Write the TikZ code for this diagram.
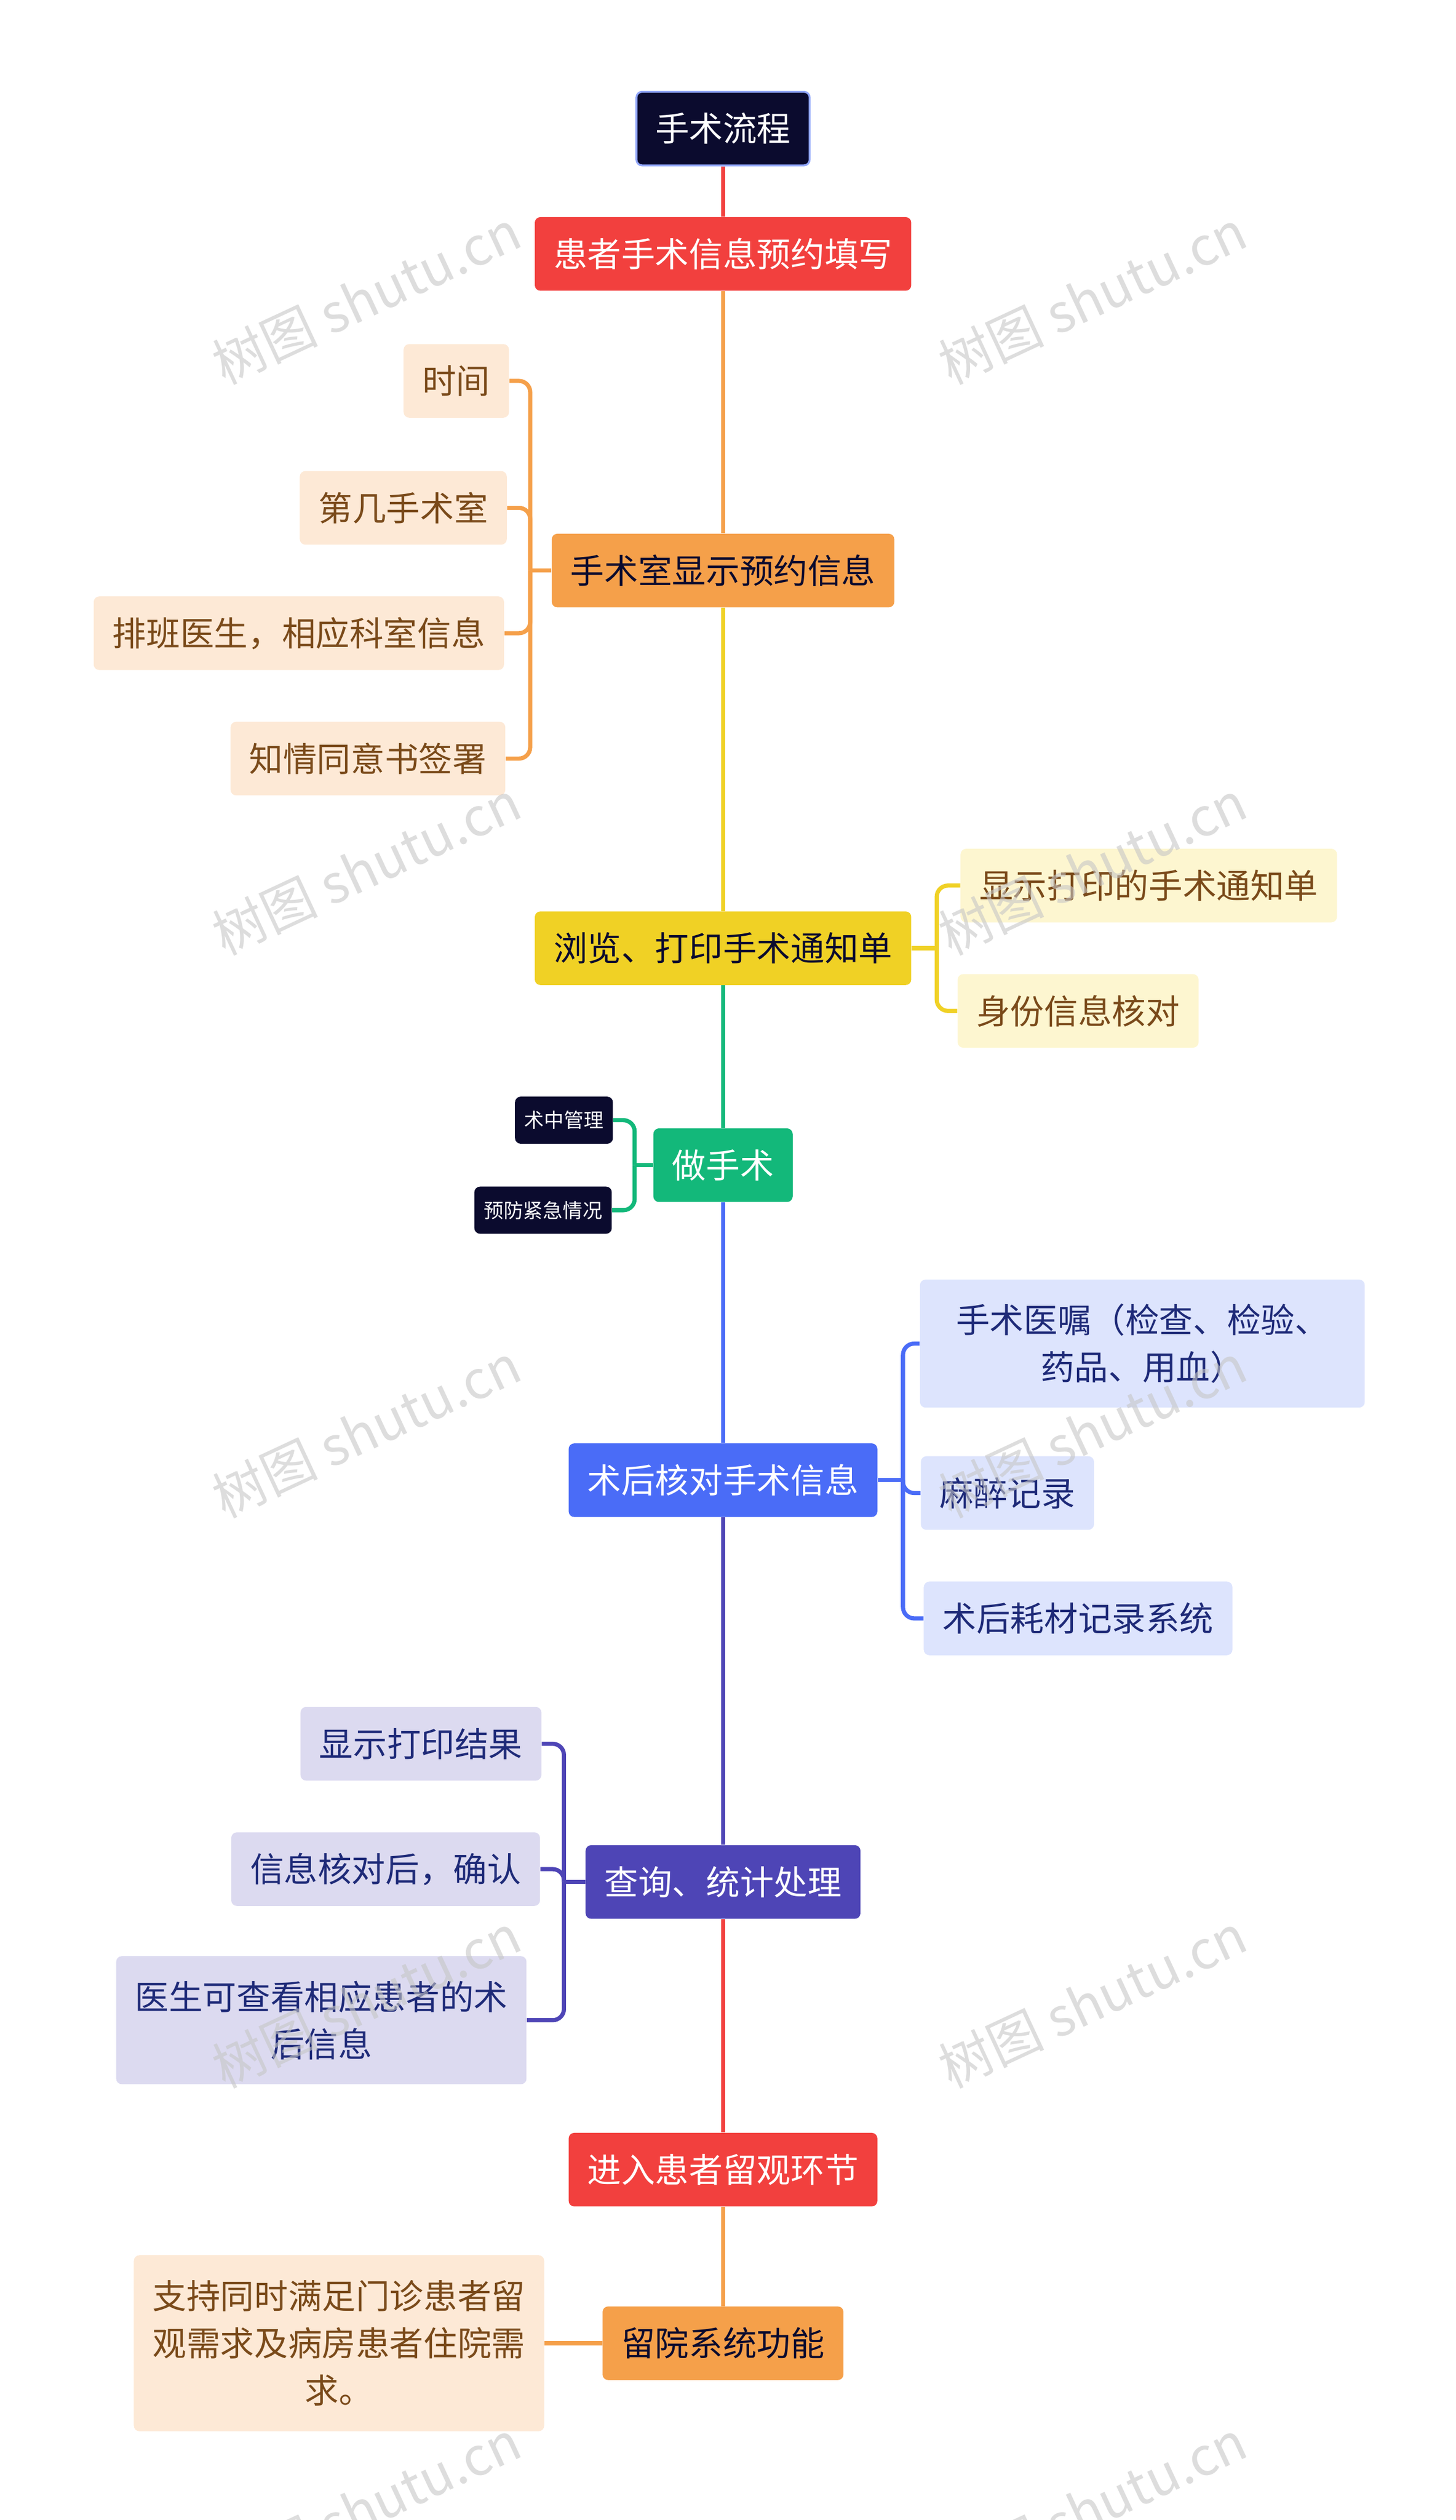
\documentclass[tikz,border=0pt]{standalone}
\usepackage{fontspec}
\setmainfont{Noto Sans CJK SC}
\usetikzlibrary{positioning}
\definecolor{navy}{HTML}{0B0B2E}
\definecolor{redm}{HTML}{F2403E}
\definecolor{orangem}{HTML}{F5A04A}
\definecolor{yellowm}{HTML}{F0D125}
\definecolor{greenm}{HTML}{13B87A}
\definecolor{bluem}{HTML}{4A6CF7}
\definecolor{purplem}{HTML}{4E45B6}
\definecolor{orangel}{HTML}{FDE9D6}
\definecolor{yellowl}{HTML}{FDF6D0}
\definecolor{bluel}{HTML}{DDE4FD}
\definecolor{purplel}{HTML}{DCDAF0}
\definecolor{brownt}{HTML}{7A4A1A}
\definecolor{navyt}{HTML}{1E2A78}
\tikzset{
  main/.style={rounded corners=3pt, minimum height=46*0.85pt, inner xsep=10pt,
    font=\fontsize{18}{22}\selectfont, text=white},
  leaf/.style={rounded corners=3pt, minimum height=46*0.85pt, inner xsep=10pt,
    font=\fontsize{18}{25}\selectfont, align=center},
  tiny/.style={rounded corners=3pt, fill=navy, text=white, minimum height=25pt,
    inner xsep=5pt, font=\fontsize{10.5}{12}\selectfont},
  link/.style={line width=2.2pt},
  brk/.style={line width=2.2pt, rounded corners=6pt},
  wm/.style={text=gray!45, opacity=0.6, rotate=25, font=\fontsize{28}{32}\selectfont}
}
\begin{document}
\begin{tikzpicture}[x=0.03cm, y=-0.03cm]
  \useasboundingbox (0,0) rectangle (906,1568);

  % spine
  \node[main, fill=navy, draw=bluem!60, line width=1pt] (root) at (450,80) {手术流程};
  \node[main, fill=redm] (appoint) at (450,158) {患者手术信息预约填写};
  \node[main, fill=orangem, text=navy] (room) at (450,355) {手术室显示预约信息};
  \node[main, fill=yellowm, text=navy] (notice) at (450,590) {浏览、打印手术通知单};
  \node[main, fill=greenm] (surgery) at (450,725) {做手术};
  \node[main, fill=bluem] (check) at (450,921) {术后核对手术信息};
  \node[main, fill=purplem] (query) at (450,1171) {查询、统计处理};
  \node[main, fill=redm] (observe) at (450,1350) {进入患者留观环节};
  \node[main, fill=orangem, text=navy] (stay) at (450,1458) {留院系统功能};

  \draw[link, redm] (root) -- (appoint);
  \draw[link, orangem] (appoint) -- (room);
  \draw[link, yellowm] (room) -- (notice);
  \draw[link, greenm] (notice) -- (surgery);
  \draw[link, bluem] (surgery) -- (check);
  \draw[link, purplem] (check) -- (query);
  \draw[link, redm] (query) -- (observe);
  \draw[link, orangem] (observe) -- (stay);

  % room children
  \node[leaf, fill=orangel, text=brownt] (time) at (284,237) {时间};
  \node[leaf, fill=orangel, text=brownt] (roomno) at (251,316) {第几手术室};
  \node[leaf, fill=orangel, text=brownt] (doctor) at (186,394) {排班医生，相应科室信息};
  \node[leaf, fill=orangel, text=brownt] (consent) at (229,472) {知情同意书签署};
  \coordinate (roomb) at (330,355);
  \draw[link, orangem] (room.west) -- (roomb);
  \foreach \c in {time, roomno, doctor, consent}
    \draw[brk, orangem] (roomb) |- (\c.east);

  % notice children
  \node[leaf, fill=yellowl, text=brownt] (print) at (715,551) {显示打印的手术通知单};
  \node[leaf, fill=yellowl, text=brownt] (ident) at (671,629) {身份信息核对};
  \coordinate (noticeb) at (583,590);
  \draw[link, yellowm] (notice.east) -- (noticeb);
  \foreach \c in {print, ident}
    \draw[brk, yellowm] (noticeb) |- (\c.west);

  % surgery children
  \node[tiny] (manage) at (351,697) {术中管理};
  \node[tiny] (emerg) at (338,753) {预防紧急情况};
  \coordinate (surgeryb) at (395,725);
  \draw[link, greenm] (surgery.west) -- (surgeryb);
  \foreach \c in {manage, emerg}
    \draw[brk, greenm] (surgeryb) |- (\c.east);

  % check children
  \node[leaf, fill=bluel, text=navyt, minimum height=80*0.85pt, minimum width=278*0.85pt] (order) at (711,836) {手术医嘱（检查、检验、\\药品、用血）};
  \node[leaf, fill=bluel, text=navyt] (anesth) at (627,929) {麻醉记录};
  \node[leaf, fill=bluel, text=navyt] (consum) at (671,1007) {术后耗材记录系统};
  \coordinate (checkb) at (562,921);
  \draw[link, bluem] (check.east) -- (checkb);
  \foreach \c in {order, anesth, consum}
    \draw[brk, bluem] (checkb) |- (\c.west);

  % query children
  \node[leaf, fill=purplel, text=navyt] (result) at (262,1085) {显示打印结果};
  \node[leaf, fill=purplel, text=navyt] (confirm) at (240,1163) {信息核对后，确认};
  \node[leaf, fill=purplel, text=navyt, minimum height=80*0.85pt] (view) at (200,1257) {医生可查看相应患者的术\\后信息};
  \coordinate (queryb) at (351,1171);
  \draw[link, purplem] (query.west) -- (queryb);
  \foreach \c in {result, confirm, view}
    \draw[brk, purplem] (queryb) |- (\c.east);

  % stay child
  \node[leaf, fill=orangel, text=brownt, minimum height=110*0.85pt] (support) at (211,1458) {支持同时满足门诊患者留\\观需求及病房患者住院需\\求。};
  \draw[link, orangem] (stay.west) -- (support.east);

  % watermarks
  \foreach \wx in {228,680}
    \foreach \wy in {185,540,890,1245,1560}
      \node[wm] at (\wx,\wy) {树图 shutu.cn};
\end{tikzpicture}
\end{document}
